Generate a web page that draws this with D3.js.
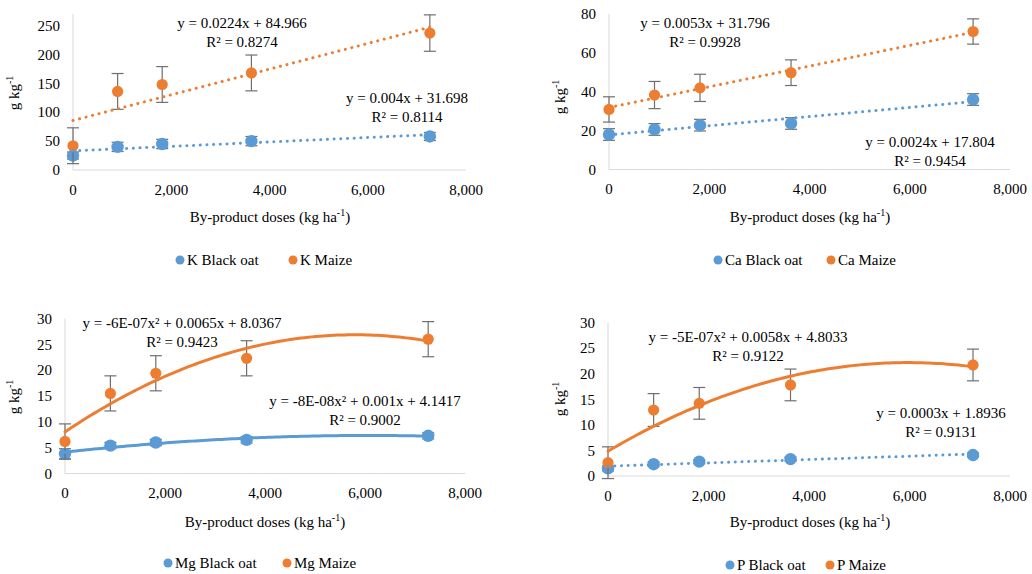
<!DOCTYPE html>
<html>
<head>
<meta charset="utf-8">
<script src="https://cdn.jsdelivr.net/npm/d3@7"></script>
<style>
body{margin:0;background:#fff;}
</style>
</head>
<body>
<div id="chart"></div>
<script>
// doses of the by-product (kg/ha)
var doses=[0,908,1816,3632,7264];

// K
var kOat=[25,40,45,50,58];
var kOatErr=[6,8,8,8,7];
var kMaize=[42,136,148,168,237];
var kMaizeErr=[31,31,31,31,31.5];
// Ca
var caOat=[18,20.6,22.8,23.7,36];
var caOatErr=[3,3,3,3,3];
var caMaize=[30.9,38.3,42,49.8,71];
var caMaizeErr=[6.5,7,7,6.6,6.5];
// Mg
var mgOat=[3.8,5.4,6.0,6.5,7.3];
var mgOatErr=[1,0.6,0.6,0.6,0.6];
var mgMaize=[6.2,15.5,19.4,22.3,26];
var mgMaizeErr=[3.4,3.4,3.4,3.4,3.4];
// P
var pOat=[1.5,2.3,2.8,3.3,4.1];
var pOatErr=[0.5,0.4,0.4,0.4,0.4];
var pMaize=[2.6,12.9,14.2,17.8,21.7];
var pMaizeErr=[3.1,3.2,3.1,3.1,3.1];

// tick labels
var xTicks=[0,2000,4000,6000,8000];
var kTicks=[0,50,100,150,200,250];
var caTicks=[0,20,40,60,80];
var mgTicks=[0,5,10,15,20,25,30];
var pTicks=[0,5,10,15,20,25,30];

// trendline labels
var kOatEq=["y = 0.004x + 31.698","R² = 0.8114"];
var kMaizeEq=["y = 0.0224x + 84.966","R² = 0.8274"];
var caOatEq=["y = 0.0024x + 17.804","R² = 0.9454"];
var caMaizeEq=["y = 0.0053x + 31.796","R² = 0.9928"];
var mgOatEq=["y = -8E-08x² + 0.001x + 4.1417","R² = 0.9002"];
var mgMaizeEq=["y = -6E-07x² + 0.0065x + 8.0367","R² = 0.9423"];
var pOatEq=["y = 0.0003x + 1.8936","R² = 0.9131"];
var pMaizeEq=["y = -5E-07x² + 0.0058x + 4.8033","R² = 0.9122"];

var blue="#5B9BD5", orange="#ED7D31";
var fontFam="'Liberation Serif','Times New Roman','DejaVu Serif',serif";

//最小平方法 (Excel trendline)
polyfit=function(xs,ys,deg){
	var n=deg+1, A=[], i, j, k;
	for(i=0;i<n;i++){
		A.push([]);
		for(j=0;j<n;j++){
			var s=0;
			for(k=0;k<xs.length;k++) s+=Math.pow(xs[k],i+j);
			A[i].push(s);
		}
		var b=0;
		for(k=0;k<xs.length;k++) b+=ys[k]*Math.pow(xs[k],i);
		A[i].push(b);
	}
	for(i=0;i<n;i++){
		for(j=i+1;j<n;j++){
			var f=A[j][i]/A[i][i];
			for(k=i;k<=n;k++) A[j][k]-=f*A[i][k];
		}
	}
	var c=new Array(n);
	for(i=n-1;i>=0;i--){
		var s=A[i][n];
		for(j=i+1;j<n;j++) s-=A[i][j]*c[j];
		c[i]=s/A[i][i];
	}
	return c;
};

var panels=[
	{name:"K",oat:kOat,oatErr:kOatErr,maize:kMaize,maizeErr:kMaizeErr,yMax:270,yTicks:kTicks,
	 x0:73,x1:466,y0:170,y1:14,deg:[1,1],solid:[false,false],
	 oatEq:kOatEq,oatEqPos:[407,103],maizeEq:kMaizeEq,maizeEqPos:[242,28],
	 yTitle:[19,93],xTitle:[270,222],legend:[180,293,260]},
	{name:"Ca",oat:caOat,oatErr:caOatErr,maize:caMaize,maizeErr:caMaizeErr,yMax:80,yTicks:caTicks,
	 x0:609,x1:1010,y0:169.5,y1:14,deg:[1,1],solid:[false,false],
	 oatEq:caOatEq,oatEqPos:[930,147],maizeEq:caMaizeEq,maizeEqPos:[705,28],
	 yTitle:[565,97],xTitle:[810,222],legend:[718,831,260]},
	{name:"Mg",oat:mgOat,oatErr:mgOatErr,maize:mgMaize,maizeErr:mgMaizeErr,yMax:30,yTicks:mgTicks,
	 x0:65,x1:465,y0:473.5,y1:318.5,deg:[2,2],solid:[true,true],
	 oatEq:mgOatEq,oatEqPos:[365,406],maizeEq:mgMaizeEq,maizeEqPos:[182,328],
	 yTitle:[19,397],xTitle:[265,527],legend:[168,287,563]},
	{name:"P",oat:pOat,oatErr:pOatErr,maize:pMaize,maizeErr:pMaizeErr,yMax:30,yTicks:pTicks,
	 x0:608,x1:1010,y0:476,y1:322.5,deg:[1,2],solid:[false,true],
	 oatEq:pOatEq,oatEqPos:[941,418],maizeEq:pMaizeEq,maizeEqPos:[748,342],
	 yTitle:[565,399],xTitle:[810,527],legend:[730,830,565]}
];

main=function(){
	var svg=d3.select("#chart").append("svg").attr("width",1032).attr("height",574)
		.attr("font-family",fontFam).attr("font-size",15).style("font-family",fontFam);

	panels.forEach(function(p){
		var g=svg.append("g");
		var x=d3.scaleLinear().domain([0,8000]).range([p.x0,p.x1]);
		var y=d3.scaleLinear().domain([0,p.yMax]).range([p.y0,p.y1]);

		//軸線
		g.append("line").attr("x1",x(0)).attr("x2",x(8000)).attr("y1",y(0)).attr("y2",y(0))
			.attr("stroke","#d9d9d9").attr("stroke-width",1);
		g.append("line").attr("x1",x(0)).attr("x2",x(0)).attr("y1",y(0)).attr("y2",y(p.yMax))
			.attr("stroke","#d9d9d9").attr("stroke-width",1);

		g.selectAll(".xt").data(xTicks).enter().append("text")
			.attr("x",function(d){return x(d)}).attr("y",y(0)+24.5)
			.attr("text-anchor","middle").text(d3.format(","));
		g.selectAll(".yt").data(p.yTicks).enter().append("text")
			.attr("x",x(0)-13).attr("y",function(d){return y(d)}).attr("dy","0.35em")
			.attr("text-anchor","end").text(function(d){return d});

		//軸標題
		var xt=g.append("text").attr("x",p.xTitle[0]).attr("y",p.xTitle[1]).attr("text-anchor","middle");
		xt.append("tspan").text("By-product doses (kg ha");
		xt.append("tspan").attr("font-size","10px").attr("dy","-6").text("-1");
		xt.append("tspan").attr("dy","6").text(")");

		var yt=g.append("text").attr("transform","translate("+p.yTitle[0]+","+p.yTitle[1]+") rotate(-90)")
			.attr("text-anchor","middle");
		yt.append("tspan").text("g kg");
		yt.append("tspan").attr("font-size","10px").attr("dy","-6").text("-1");

		var series=[
			{vals:p.oat,err:p.oatErr,color:blue,r:6.2,deg:p.deg[0],solid:p.solid[0]},
			{vals:p.maize,err:p.maizeErr,color:orange,r:5.6,deg:p.deg[1],solid:p.solid[1]}
		];

		series.forEach(function(s){
			var pts=doses.map(function(d,i){return {x:d,y:s.vals[i],e:s.err[i]}});
			var eg=g.append("g");
			pts.forEach(function(d){
				eg.append("line").attr("x1",x(d.x)).attr("x2",x(d.x)).attr("y1",y(d.y-d.e)).attr("y2",y(d.y+d.e))
					.attr("stroke","#6f6f6f").attr("stroke-width",1.2);
				[d.y-d.e,d.y+d.e].forEach(function(v){
					eg.append("line").attr("x1",x(d.x)-6).attr("x2",x(d.x)+6).attr("y1",y(v)).attr("y2",y(v))
						.attr("stroke","#6f6f6f").attr("stroke-width",1.2);
				});
			});
			g.append("g").selectAll("circle").data(pts).enter().append("circle")
				.attr("cx",function(d){return x(d.x)}).attr("cy",function(d){return y(d.y)})
				.attr("r",s.r).attr("fill",s.color);
		});

		series.forEach(function(s){
			var c=polyfit(doses,s.vals,s.deg);
			var xs=d3.range(0,101).map(function(i){return doses[doses.length-1]*i/100});
			var line=d3.line().x(function(d){return x(d)}).y(function(d){
				var v=0;
				for(var k=0;k<c.length;k++) v+=c[k]*Math.pow(d,k);
				return y(v);
			});
			var path=g.append("path").datum(xs).attr("d",line).attr("fill","none")
				.attr("stroke",s.color).attr("stroke-width",3).attr("stroke-linecap","round");
			if(!s.solid) path.attr("stroke-dasharray","0.1,6.6");
		});

		//趨勢線方程式
		[[p.oatEq,p.oatEqPos],[p.maizeEq,p.maizeEqPos]].forEach(function(e){
			g.append("text").attr("x",e[1][0]).attr("y",e[1][1]).attr("text-anchor","middle").text(e[0][0]);
			g.append("text").attr("x",e[1][0]).attr("y",e[1][1]+19).attr("text-anchor","middle").text(e[0][1]);
		});

		//圖例
		var lg=g.append("g");
		[[p.legend[0],p.name+" Black oat",blue],[p.legend[1],p.name+" Maize",orange]].forEach(function(l){
			lg.append("circle").attr("cx",l[0]).attr("cy",p.legend[2]).attr("r",4.5).attr("fill",l[2]);
			lg.append("text").attr("x",l[0]+7).attr("y",p.legend[2]).attr("dy","0.35em").text(l[1]);
		});
	});
};

main();
</script>
</body>
</html>
